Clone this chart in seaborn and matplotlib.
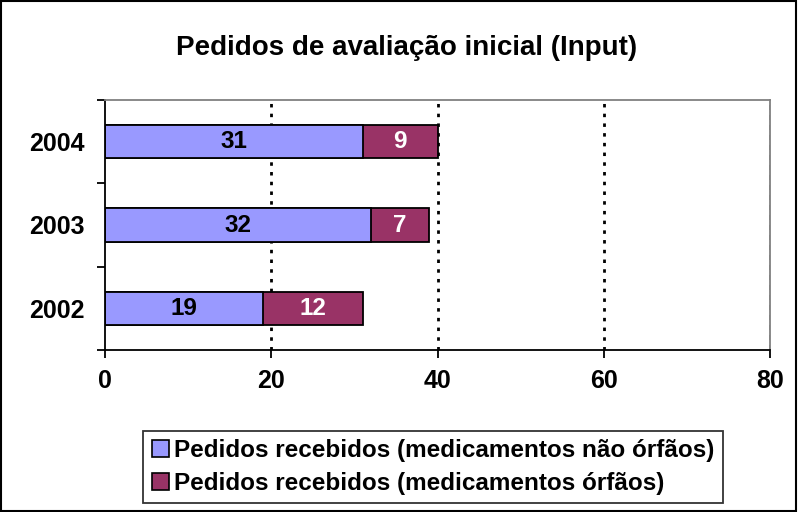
import matplotlib
matplotlib.use("Agg")
import matplotlib.pyplot as plt
import seaborn as sns
import pandas as pd
from matplotlib.patches import Patch, Rectangle
from matplotlib.ticker import FixedLocator

years = ["2004", "2003", "2002"]
nao_orfaos = [31, 32, 19]
orfaos = [9, 7, 12]
x_ticks = [0, 20, 40, 60, 80]
title = "Pedidos de avaliação inicial (Input)"
label_nao = "Pedidos recebidos (medicamentos não órfãos)"
label_orf = "Pedidos recebidos (medicamentos órfãos)"

blue = "#9999FF"
maroon = "#993366"

sns.set_theme(style="white")
plt.rcParams["font.family"] = ["Liberation Sans", "DejaVu Sans"]
plt.rcParams["font.weight"] = "bold"
for k in ["text.color", "axes.labelcolor", "xtick.color", "ytick.color"]:
    plt.rcParams[k] = "black"

df = pd.DataFrame({"ano": years, "nao": nao_orfaos, "orf": orfaos})
df["total"] = df["nao"] + df["orf"]

fig = plt.figure(figsize=(7.98, 5.12), dpi=100)
ax = fig.add_axes([105 / 798, 1 - 350 / 512, 665 / 798, 250 / 512])

sns.barplot(data=df, x="total", y="ano", order=years, color=maroon, saturation=1,
            edgecolor="black", linewidth=1.3, width=0.4, ax=ax)
sns.barplot(data=df, x="nao", y="ano", order=years, color=blue, saturation=1,
            edgecolor="black", linewidth=1.3, width=0.4, ax=ax)

# value labels
for i, row in df.iterrows():
    ax.text(row["nao"] / 2, i, str(row["nao"]), ha="center", va="center",
            fontsize=17.5, fontweight="bold", color="black")
    ax.text(row["nao"] + row["orf"] / 2, i, str(row["orf"]), ha="center", va="center",
            fontsize=17.5, fontweight="bold", color="white")

ax.set_xlim(0, 80)
ax.set_ylim(2.5, -0.5)
ax.set_xticks(x_ticks)
ax.set_xticklabels([str(t) for t in x_ticks], fontsize=18, fontweight="bold")
ax.set_yticks(range(len(years)))
ax.set_yticklabels(years, fontsize=18, fontweight="bold")
ax.yaxis.set_minor_locator(FixedLocator([-0.5, 0.5, 1.5, 2.5]))
ax.tick_params(axis="y", which="major", length=0, pad=14.5)
ax.tick_params(axis="y", which="minor", length=6, width=1.3, color="black", direction="out", left=True)
ax.tick_params(axis="x", which="major", length=6, width=1.3, color="black", direction="out",
               bottom=True, pad=8)
ax.set_xlabel("")
ax.set_ylabel("")

for x in [20, 40, 60]:
    ax.axvline(x, color="black", linestyle=(0, (1.25, 2.25)), linewidth=2, zorder=0)
ax.axvline(80, color="gray", linestyle=(0, (3, 3)), linewidth=1.2, zorder=0)

ax.spines["left"].set_color("black")
ax.spines["left"].set_linewidth(1.3)
ax.spines["bottom"].set_color("black")
ax.spines["bottom"].set_linewidth(1.3)
ax.spines["top"].set_color("#808080")
ax.spines["top"].set_linewidth(1.3)
ax.spines["right"].set_color("#808080")
ax.spines["right"].set_linewidth(1.3)

fig.text(0.51, 1 - 48 / 512, title, ha="center", va="center", fontsize=20, fontweight="bold")

handles = [Patch(facecolor=blue, edgecolor="black", linewidth=1.2),
           Patch(facecolor=maroon, edgecolor="black", linewidth=1.2)]
leg = fig.legend(handles, [label_nao, label_orf], loc="center",
                 bbox_to_anchor=(433 / 798, 1 - 467 / 512), prop={"size": 17.5, "weight": "bold"},
                 frameon=True, fancybox=False, edgecolor="black", handlelength=0.7,
                 handleheight=0.7, handletextpad=0.2, borderpad=0.35, labelspacing=0.4,
                 borderaxespad=0)
leg.get_frame().set_linewidth(1.3)

fig.patches.append(Rectangle((0.001, 0.001), 0.997, 0.997, transform=fig.transFigure,
                             fill=False, edgecolor="black", linewidth=1.5))

fig.savefig("out.png", dpi=100)
